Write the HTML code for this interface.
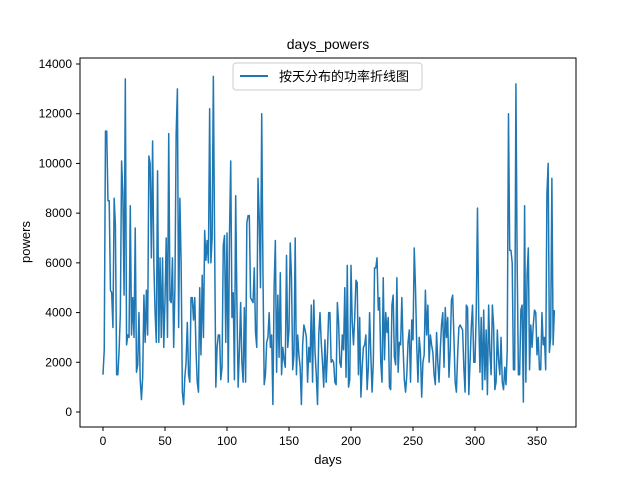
<!DOCTYPE html>
<html><head><meta charset="utf-8"><style>
body{margin:0;background:#fff;}
svg{display:block;font-family:"Liberation Sans","Noto Sans CJK SC",sans-serif;}
</style></head><body>
<svg id="chart" width="640" height="480">
<rect x="0" y="0" width="640" height="480" fill="#fff"/>
<text x="328" y="49" text-anchor="middle" font-size="14">days_powers</text>
<g id="plot"></g>
<rect x="80" y="58" width="496" height="369" fill="none" stroke="#000" stroke-width="1"/>
<g id="xt"></g><g id="yt"></g>
<text x="328" y="464" text-anchor="middle" font-size="13">days</text>
<text transform="translate(30,242) rotate(-90)" text-anchor="middle" font-size="13">powers</text>
<g>
<rect x="233" y="63" width="189" height="27" rx="3" fill="#fff" fill-opacity="0.8" stroke="#ccc"/>
<line x1="240" y1="76" x2="268" y2="76" stroke="#1f77b4" stroke-width="2"/>
<text x="279" y="81" font-size="13">按天分布的功率折线图</text>
</g>
</svg>
<script>
const days_start = 0;
const powers = [
1500,2500,11300,11300,8500,8500,4900,4800,3400,8600,
7500,1500,1500,2500,4000,10100,8800,4700,13400,2700,
3100,3000,8300,3100,4600,3000,7400,1600,1900,4000,
1300,500,1400,4700,2800,4900,3100,10300,10000,6200,
10900,6000,4000,2800,9700,2800,6200,3000,6200,2600,
4500,7000,3000,11200,4500,4400,6200,2600,5000,11200,
13000,3400,8600,6000,800,300,1400,2000,3600,1500,
1200,4600,4600,3700,4600,2500,1200,800,5000,2300,
5500,3000,7300,6100,6900,6000,12200,6000,7000,13500,
6900,1000,2600,3100,3100,1300,1800,6700,7100,2800,
7200,1200,7100,10100,3800,4800,1300,8700,4300,1000,
2500,4400,2000,1200,4200,1200,7600,7900,7900,4600,
4500,4400,5800,3200,2600,9400,7800,5000,12000,5600,
1100,1500,2800,3000,4000,2600,3100,300,
5000,6900,1600,4700,2200,5600,1500,2600,2100,1800,
6300,2600,3300,6800,5400,1700,2300,7000,1500,3100,
2300,1800,300,2700,3500,3300,3000,1200,2600,2000,
4300,1200,4500,2400,1500,300,3100,4000,2800,2000,
1000,2900,1200,
2400,4000,4000,2000,2100,2000,1200,1100,4400,3600,
2000,1800,3100,2500,5000,1400,5900,1000,1300,5900,
3600,2700,3800,5300,5200,1500,3800,600,1800,2600,
2700,3100,900,1800,4000,2300,800,2000,5800,5800,
6200,4100,4600,2000,1200,5400,2100,4000,3200,3800,
1000,900,4300,4700,2200,1900,5400,1600,2800,2700,
4600,2600,1300,800,1500,2800,3300,1200,3700,2900,
6600,5000,2700,1200,3000,2400,600,2000,2300,4900,
3100,4300,2000,3100,2700,2400,1500,1100,3200,2000,
1200,2500,3500,4000,1800,4200,3000,3800,1400,2500,
4500,4700,3000,1200,800,2300,3400,3500,3400,3300,
1800,800,4300,4200,700,2000,3400,4300,2000,2000,
4000,8200,3800,1600,3800,900,4100,1300,3300,700,
4300,2400,1500,4300,3500,900,1200,3300,2100,1500,
3000,1200,900,1800,1100,2500,
12000,6500,6500,6000,1700,1700,13200,
6000,1500,1500,4100,4300,400,8300,1200,5500,6600,
1700,3500,2600,3500,4100,4000,2300,
3000,1700,1700,4000,2700,3000,1700,8800,10000,2400,
3000,9400,2700,4100
];
const xTicks = [0,50,100,150,200,250,300,350];
const yTicks = [0,2000,4000,6000,8000,10000,12000,14000];
const NS='http://www.w3.org/2000/svg';
function xs(d){return 103 + d*(434/350);}
function ys(v){return 412 - v*(348/14000);}
const plot=document.getElementById('plot');
const pts=powers.map((v,i)=>xs(days_start+i).toFixed(2)+','+ys(v).toFixed(2)).join(' ');
const pl=document.createElementNS(NS,'polyline');
pl.setAttribute('points',pts);
pl.setAttribute('fill','none');pl.setAttribute('stroke','#1f77b4');pl.setAttribute('stroke-width','1.5');
pl.setAttribute('stroke-linejoin','round');


plot.appendChild(pl);
const xt=document.getElementById('xt');
xTicks.forEach(t=>{
 const l=document.createElementNS(NS,'line');
 l.setAttribute('x1',xs(t));l.setAttribute('x2',xs(t));l.setAttribute('y1',427);l.setAttribute('y2',431);l.setAttribute('stroke','#000');
 
 
 xt.appendChild(l);
 const tx=document.createElementNS(NS,'text');
 tx.setAttribute('x',xs(t));tx.setAttribute('y',445);tx.setAttribute('text-anchor','middle');tx.setAttribute('font-size','12');
 tx.textContent=t;
 
 
 xt.appendChild(tx);
});
const yt=document.getElementById('yt');
yTicks.forEach(t=>{
 const l=document.createElementNS(NS,'line');
 l.setAttribute('x1',76);l.setAttribute('x2',80);l.setAttribute('y1',ys(t));l.setAttribute('y2',ys(t));l.setAttribute('stroke','#000');
 
 
 yt.appendChild(l);
 const tx=document.createElementNS(NS,'text');
 tx.setAttribute('x',72);tx.setAttribute('y',ys(t)+4);tx.setAttribute('text-anchor','end');tx.setAttribute('font-size','12');
 tx.textContent=t;
 
 
 yt.appendChild(tx);
});
</script>
</body></html>
